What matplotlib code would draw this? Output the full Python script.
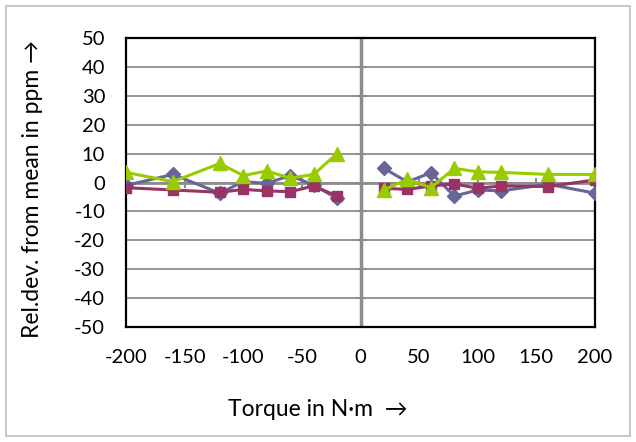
import numpy as np
import matplotlib
matplotlib.use("Agg")
import matplotlib.pyplot as plt
from matplotlib.patches import Rectangle

plt.rcParams['font.family'] = ['Lato', 'DejaVu Sans']

torque = [-200, -160, -120, -100, -80, -60, -40, -20, 0, 20, 40, 60, 80, 100, 120, 160, 200]
series_blue = [-1.0, 2.8, -3.7, 0.3, -0.3, 2.4, -0.9, -5.5, np.nan, 4.9, 0.2, 3.4, -4.7, -2.6, -2.9, -0.6, -3.7]
series_purple = [-1.8, -2.6, -3.4, -2.4, -2.9, -3.2, -1.2, -4.7, np.nan, -2.0, -2.4, -1.2, -0.5, -2.0, -1.2, -1.4, 0.9]
series_green = [3.5, 0.3, 6.6, 2.4, 4.0, 1.5, 2.8, 10.0, np.nan, -2.6, 1.1, -1.8, 4.9, 3.7, 3.5, 2.8, 2.8]

x_ticks = [-200, -150, -100, -50, 0, 50, 100, 150, 200]
y_ticks = [-50, -40, -30, -20, -10, 0, 10, 20, 30, 40, 50]

fig = plt.figure(figsize=(6.36, 4.42), dpi=100)
ax = fig.add_axes([126/636, 1-326.7/442, (595-126)/636, (326.7-38.3)/442])

ax.set_xlim(-200, 200)
ax.set_ylim(-50, 50)
ax.set_xticks(x_ticks)
ax.set_yticks(y_ticks)
ax.set_xticklabels([str(t) for t in x_ticks], fontsize=14.5)
ax.set_yticklabels([str(t) for t in y_ticks], fontsize=14.5)
ax.tick_params(axis='both', length=0)
ax.tick_params(axis='y', pad=15)
ax.tick_params(axis='x', pad=16)

ax.grid(axis='y', color='#8c8c8c', linewidth=1.3)
ax.set_axisbelow(True)
for s in ax.spines.values():
    s.set_color('black')
    s.set_linewidth(1.6)

# axis lines through zero with cross ticks
ax.axvline(0, color='#8c8c8c', linewidth=2.5, zorder=1.5)
ax.axhline(0, color='#8c8c8c', linewidth=2.0, zorder=1.5)
ax.plot(np.zeros(len(y_ticks)), y_ticks, linestyle='none', marker='_', markersize=7,
        markeredgewidth=1.5, color='#8c8c8c', zorder=1.6, clip_on=False)
ax.plot(x_ticks, np.zeros(len(x_ticks)), linestyle='none', marker='|', markersize=7,
        markeredgewidth=1.5, color='#8c8c8c', zorder=1.6)

ax.plot(torque, series_blue, color='#666699', linewidth=2.2, marker='D', markersize=7, zorder=3)
ax.plot(torque, series_purple, color='#993366', linewidth=2.2, marker='s', markersize=7.5, zorder=4)
ax.plot(torque, series_green, color='#99CC00', linewidth=2.2, marker='^', markersize=10, zorder=5)

fig.text(33/636, 1-189/442, 'Rel.dev. from mean in ppm \u2192', rotation=90,
         ha='center', va='center', fontsize=16.5)
fig.text(318/636, 1-410/442, 'Torque in N\u00b7m  \u2192', ha='center', va='center', fontsize=16.5)

fig.add_artist(Rectangle((6/636, 6/442), 624/636, 430/442, transform=fig.transFigure,
                         fill=False, edgecolor='#bfbfbf', linewidth=1.2))

fig.savefig('out.png', dpi=100)
